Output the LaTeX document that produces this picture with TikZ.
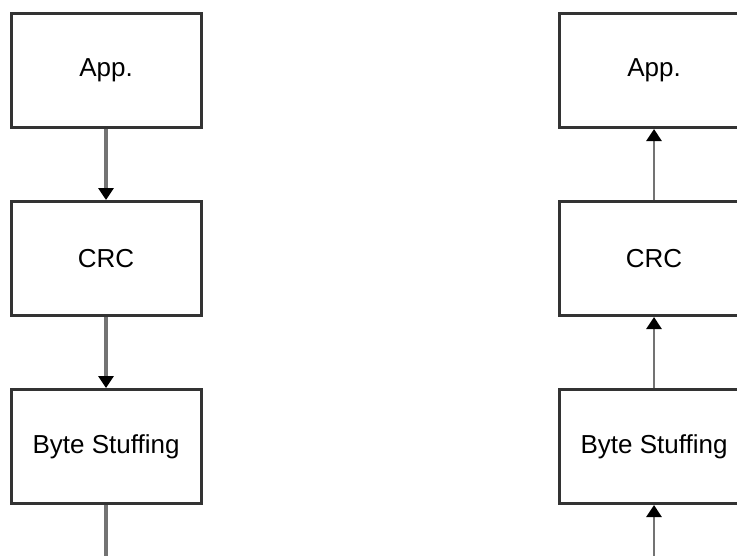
\documentclass[tikz,border=0pt]{standalone}
\usepackage{fontspec}
\setmainfont{Liberation Sans}
\usetikzlibrary{arrows.meta,positioning}
\tikzset{
  layer/.style    = {draw=black!80, line width=3pt, minimum width=190pt, minimum height=114pt, font=\fontsize{26}{30}\selectfont},
  sendedge/.style = {black!55, line width=3.5pt, -{Triangle[color=black,length=12pt,width=15pt]}},
  recvedge/.style = {black!55, line width=2.8pt, -{Triangle[color=black,length=12pt,width=15pt]}},
}

\begin{document}
\begin{tikzpicture}[auto,node distance=188pt]
    \useasboundingbox (0,0) rectangle (737pt,-555pt);
    % sender side
    \node [layer] (app1) at (106pt,-70.5pt) {App.};
    \node [layer, below of=app1] (crc1) {CRC};
    \node [layer, below of=crc1] (bs1) {Byte Stuffing};
    \coordinate [below of=bs1, node distance=112pt] (out1);
    % receiver side
    \node [layer, right of=app1, node distance=548pt] (app2) {App.};
    \node [layer, below of=app2] (crc2) {CRC};
    \node [layer, below of=crc2] (bs2) {Byte Stuffing};
    \coordinate [below of=bs2, node distance=112pt] (in2);

    \path (app1) edge[sendedge] (crc1);
    \path (crc1) edge[sendedge] (bs1);
    \draw [black!55, line width=3.5pt] (bs1) -- (out1);

    \path (in2) edge[recvedge] (bs2);
    \path (bs2) edge[recvedge] (crc2);
    \path (crc2) edge[recvedge] (app2);
\end{tikzpicture}
\end{document}
